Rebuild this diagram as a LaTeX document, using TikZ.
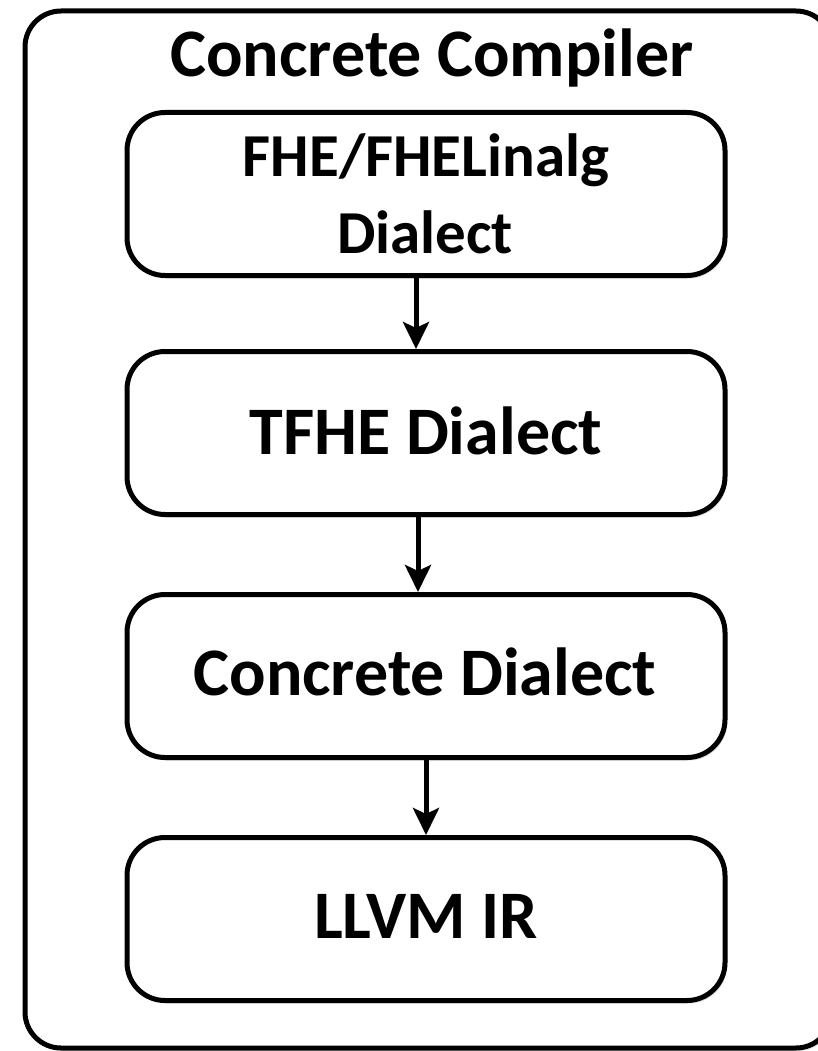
\documentclass[tikz,border=0pt]{standalone}
\usepackage{fontspec}
\setmainfont{Carlito}
\usetikzlibrary{arrows.meta,shadows}
\begin{document}
\begin{tikzpicture}[x=1pt,y=-1pt,
  stagebox/.style={draw=black, line width=5pt, rounded corners=38pt, fill=white,
    minimum width=598pt, minimum height=163pt, inner sep=0pt, align=center,
    font=\fontsize{68}{80}\selectfont\bfseries,
    drop shadow={opacity=0.25, shadow xshift=2pt, shadow yshift=-3pt}},
  flow/.style={-{Stealth[length=27pt,width=26pt,inset=6pt]}, line width=5pt}]
\useasboundingbox (0,0) rectangle (818,1051);
\draw[line width=5pt, rounded corners=36pt, fill=white,
  drop shadow={opacity=0.2, shadow xshift=2pt, shadow yshift=-3pt}]
  (25,11) rectangle (832,1048);
\node[font=\fontsize{68}{80}\selectfont\bfseries, anchor=base] (title) at (432,77) {Concrete Compiler};
\node[stagebox, font=\fontsize{61}{70}\selectfont\bfseries] (b1) at (426,194) {\raisebox{7pt}{FHE/FHELinalg}\\ \hspace*{-2pt}Dialect};
\node[stagebox] (b2) at (426,433) {\raisebox{4pt}{TFHE Dialect}};
\node[stagebox] (b3) at (426,676) {\raisebox{8pt}{\hspace*{-2pt}Concrete Dialect}};
\node[stagebox] (b4) at (426,919) {\raisebox{6pt}{LLVM IR}};
\draw[flow] ([xshift=-10pt]b1.south) -- ([xshift=-10pt]b2.north);
\draw[flow] ([xshift=-8pt]b2.south) -- ([xshift=-8pt]b3.north);
\draw[flow] (b3.south) -- (b4.north);
\end{tikzpicture}
\end{document}
